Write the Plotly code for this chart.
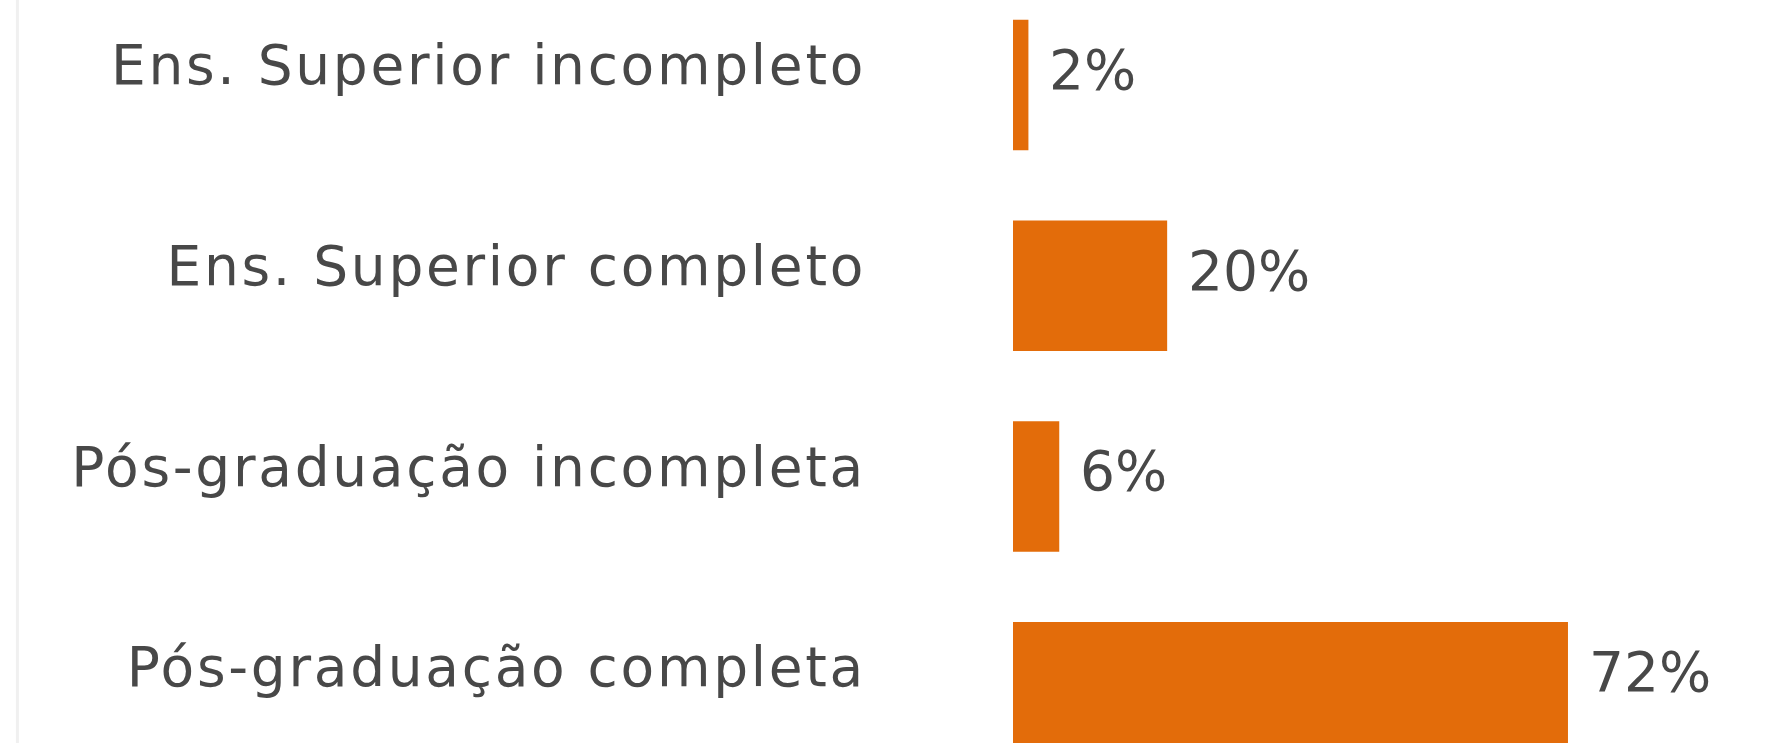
import plotly.graph_objects as go

# Education level breakdown (percent of respondents)
categories = [
    "Ens. Superior incompleto",
    "Ens. Superior completo",
    "Pós-graduação incompleta",
    "Pós-graduação completa",
]
values = [2, 20, 6, 72]
value_labels = ["2%", "20%", "6%", "72%"]

BAR_COLOR = "#E36C0A"
TEXT_COLOR = "#484848"
FONT = "DejaVu Sans"
FONT_SIZE = 55
LETTER_SPACING = 2.7  # px, slightly open tracking on category labels

fig = go.Figure(
    go.Bar(
        x=values,
        y=categories,
        orientation="h",
        marker=dict(color=BAR_COLOR, line=dict(width=0)),
        hoverinfo="skip",
    )
)

# value labels just past the end of each bar
for cat, val, lab in zip(categories, values, value_labels):
    fig.add_annotation(
        x=val, y=cat, text=lab, showarrow=False,
        xanchor="left", yanchor="middle", xshift=19, yshift=15,
        font=dict(family=FONT, size=FONT_SIZE, color=TEXT_COLOR),
    )

# faint rule at the far left edge
fig.add_shape(
    type="line", xref="paper", yref="paper",
    x0=-1.31, x1=-1.31, y0=0, y1=1,
    line=dict(color="#f0f0f0", width=3),
)

fig.update_layout(
    width=1773, height=743,
    margin=dict(l=1013, r=0, t=0, b=0),
    paper_bgcolor="white", plot_bgcolor="white",
    bargap=0.35,
    showlegend=False,
    font=dict(family=FONT, size=FONT_SIZE, color=TEXT_COLOR),
)
fig.update_xaxes(
    range=[0, 98.6], visible=False, fixedrange=True,
)
fig.update_yaxes(
    range=[3.278, -0.4235],
    showgrid=False, zeroline=False, showline=False, ticks="",
    ticklabelstandoff=146, ticklabelshift=20,
    tickfont=dict(family=FONT, size=FONT_SIZE, color=TEXT_COLOR),
    fixedrange=True,
)

# open up the tracking of the category labels
spacing_css = (
    "var s=document.createElement('style');"
    "s.textContent='.ytick text{letter-spacing:%spx;}';"
    "document.head.appendChild(s);" % LETTER_SPACING
)

fig.write_html("out.html", config={"displayModeBar": False}, post_script=spacing_css)
